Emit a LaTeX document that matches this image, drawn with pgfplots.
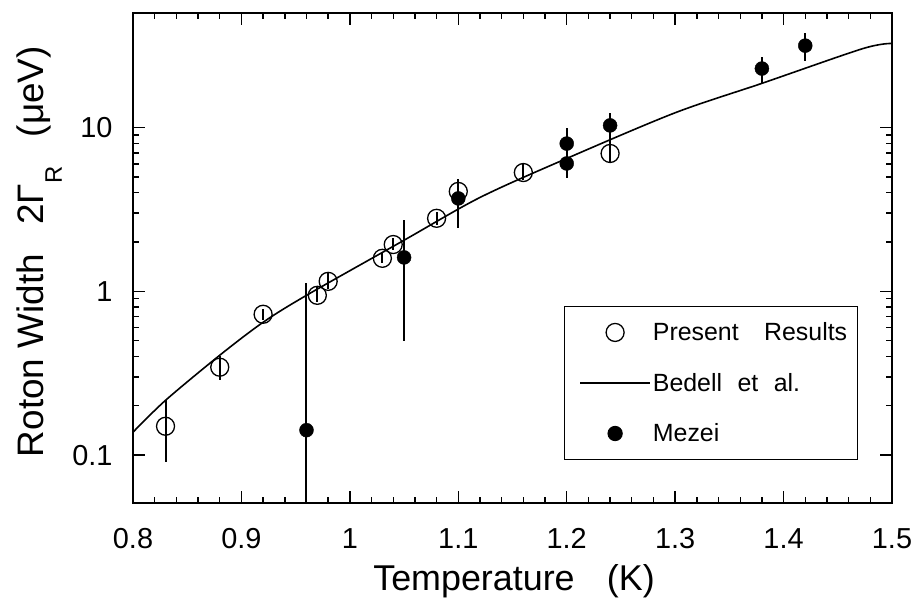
\documentclass[border=0pt]{standalone}
\usepackage{fontspec}
\setmainfont{Liberation Sans}
\usepackage{pgfplots}
\usepackage{pgfplotstable}
\pgfplotsset{compat=1.18}
\pgfplotsset{
  lineleg/.style={legend image code/.code={\path (0bp,0bp); \draw[##1] (7bp,0bp) -- (77bp,0bp);}},
  markleg/.style={legend image code/.code={\path (0bp,0bp) (77bp,0bp); \draw[##1] plot coordinates {(42bp,0bp)};}},
}

% present results: T, width, err+, err-
\pgfplotstableread{
x     y      ep     em
0.83  0.150  0.066  0.059
0.88  0.344  0.056  0.057
0.92  0.724  0.060  0.060
0.97  0.945  0.110  0.090
0.98  1.15   0.140  0.110
1.03  1.59   0.140  0.110
1.04  1.93   0.200  0.150
1.08  2.79   0.240  0.260
1.10  4.07   0.750  0.400
1.16  5.31   0.800  0.560
1.24  6.94   1.500  0.910
}\present

% Mezei
\pgfplotstableread{
x     y      ep     em
0.96  0.142  0.980  0.140
1.05  1.61   1.100  1.110
1.10  3.69   1.060  1.270
1.20  7.98   2.000  1.500
1.20  6.03   1.400  1.140
1.24  10.3   2.000  1.800
1.38  22.9   3.900  4.100
1.42  31.6   6.400  6.300
}\mezei

% Bedell et al. curve
\pgfplotstableread{
x      y
0.80   0.138
0.83   0.216
0.88   0.407
0.92   0.647
0.96   0.945
1.05   2.05
1.12   3.74
1.20   6.47
1.30   12.3
1.38   18.6
1.473  30.3
1.50   32.6
}\bedell

\begin{document}
\begin{tikzpicture}
\useasboundingbox (-133bp,-95bp) rectangle (785bp,503bp);
\begin{axis}[
  at={(0,0)}, anchor=south west,
  scale only axis, width=759bp, height=490bp,
  ymode=log, xmin=0.8, xmax=1.5, ymin=0.051, ymax=50,
  xtick={0.8,0.9,1,1.1,1.2,1.3,1.4,1.5},
  xticklabels={0.8,0.9,1,1.1,1.2,1.3,1.4,1.5},
  minor x tick num=4,
  ytick={0.1,1,10}, yticklabels={0.1,1,10},
  tick align=inside, major tick length=12bp, minor tick length=6bp,
  every tick/.style={black, line width=1.4bp},
  axis line style={line width=2bp},
  tick label style={font=\fontsize{29}{32}\selectfont},
  xticklabel style={yshift=-22bp},
  yticklabel style={xshift=-17bp},
  /pgf/number format/assume math mode=true,
  xlabel={Temperature\hspace{0.9em}(K)},
  ylabel={Roton Width\hspace{0.8em}2Γ\raisebox{-18bp}{\fontsize{24}{24}\selectfont R}\hspace{0.8em}(μeV)},
  every axis x label/.style={at={(rel axis cs:0.502,0)}, yshift=-87bp, anchor=base,
    font=\fontsize{36}{40}\selectfont},
  every axis y label/.style={at={(rel axis cs:0,0.513)}, xshift=-89bp, rotate=90, anchor=base,
    font=\fontsize{37}{40}\selectfont},
  legend style={at={(rel axis cs:0.955,0.402)}, anchor=north east,
    draw=black, line width=1.3bp, font=\fontsize{25}{30}\selectfont,
    inner xsep=8bp, inner ysep=14bp, row sep=27bp,
    cells={anchor=west}},
  legend cell align=left,
]
\addplot[black, only marks, mark=o, mark size=9bp, mark options={line width=1.3bp},
  markleg,
  error bars/.cd, y dir=both, y explicit, error mark=none,
  error bar style={line width=2bp}]
  table[x=x, y=y, y error plus=ep, y error minus=em] {\present};
\addlegendentry{Present\hspace{1.02em}Results}
\addplot[black, line width=1.6bp, no marks, smooth, tension=0.5, lineleg]
  table[x=x, y=y] {\bedell};
\addlegendentry{Bedell\hspace{0.62em}et\hspace{0.62em}al.}
\addplot[black, only marks, mark=*, mark size=7bp, markleg,
  error bars/.cd, y dir=both, y explicit, error mark=none,
  error bar style={line width=2bp}]
  table[x=x, y=y, y error plus=ep, y error minus=em] {\mezei};
\addlegendentry{Mezei}
\end{axis}
\end{tikzpicture}
\end{document}
